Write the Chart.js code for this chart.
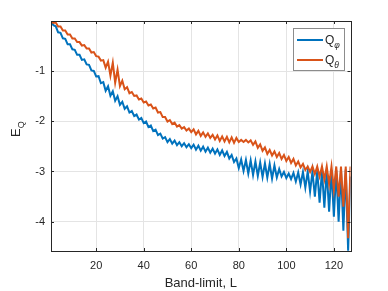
<!DOCTYPE html>
<html><head><meta charset="utf-8">
<script src="https://cdn.jsdelivr.net/npm/chart.js@4/dist/chart.umd.min.js"></script>
<style>html,body{margin:0;padding:0;background:#fff;}#wrap{width:388px;height:291px;}</style>
</head><body><div id="wrap"><canvas id="c" width="388" height="291"></canvas></div>
<script>
// Q_phi (blue) error per band-limit L = 1..127
const qPhi = [
 0, -0.085, -0.105, -0.225, -0.235, -0.345, -0.355, -0.465, -0.465, -0.565,
 -0.575, -0.675, -0.675, -0.775, -0.765, -0.865, -0.875, -0.985, -0.995, -1.105,
 -1.10, -1.24, -1.22, -1.39, -1.30, -1.49, -1.40, -1.59, -1.50, -1.67,
 -1.61, -1.75, -1.70, -1.825, -1.795, -1.895, -1.865, -1.965, -1.935, -2.035,
 -2.005, -2.115, -2.085, -2.195, -2.165, -2.275, -2.245, -2.345, -2.315, -2.415,
 -2.355, -2.445, -2.385, -2.475, -2.415, -2.495, -2.435, -2.515, -2.455, -2.535,
 -2.465, -2.565, -2.485, -2.585, -2.505, -2.605, -2.525, -2.625, -2.545, -2.645,
 -2.56, -2.67, -2.58, -2.69, -2.61, -2.74, -2.67, -2.81, -2.74, -2.93,
 -2.76, -2.99, -2.77, -3.04, -2.78, -3.07, -2.80, -3.09, -2.82, -3.11,
 -2.84, -3.12, -2.85, -3.14, -2.88, -3.12, -2.95, -3.10, -3.01, -3.13,
 -3.04, -3.15, -3.03, -3.20, -3.02, -3.26, -3.01, -3.32, -3.00, -3.40,
 -3.00, -3.50, -2.99, -3.62, -2.98, -3.72, -2.98, -3.80, -2.97, -3.90,
 -2.97, -4.00, -2.97, -4.18, -2.96, -4.58, -3.10
];
// Q_theta (orange)
const qTheta = [
 0, -0.04, -0.03, -0.11, -0.11, -0.19, -0.19, -0.27, -0.27, -0.35,
 -0.35, -0.42, -0.42, -0.49, -0.48, -0.55, -0.55, -0.63, -0.62, -0.70,
 -0.71, -0.79, -0.78, -0.93, -0.81, -1.09, -0.83, -1.23, -0.97, -1.30,
 -1.19, -1.36, -1.32, -1.44, -1.415, -1.495, -1.485, -1.565, -1.545, -1.625,
 -1.605, -1.685, -1.665, -1.745, -1.725, -1.825, -1.815, -1.915, -1.915, -2.005,
 -1.975, -2.055, -2.025, -2.105, -2.075, -2.145, -2.115, -2.185, -2.145, -2.215,
 -2.16, -2.26, -2.19, -2.29, -2.22, -2.31, -2.24, -2.33, -2.27, -2.36,
 -2.28, -2.39, -2.30, -2.40, -2.31, -2.42, -2.32, -2.43, -2.33, -2.41,
 -2.37, -2.41, -2.37, -2.42, -2.38, -2.47, -2.40, -2.53, -2.46, -2.59,
 -2.52, -2.65, -2.57, -2.68, -2.60, -2.71, -2.63, -2.75, -2.67, -2.79,
 -2.71, -2.83, -2.75, -2.88, -2.80, -2.92, -2.85, -2.97, -2.90, -3.01,
 -2.90, -3.05, -2.90, -3.10, -2.90, -3.16, -2.90, -3.25, -2.90, -3.36,
 -2.90, -3.50, -2.90, -3.70, -2.90, -4.33, -2.90
];
const bandLimits = qPhi.map((_, i) => i + 1);
const xTicks = [20, 40, 60, 80, 100, 120];
const yTicks = [-1, -2, -3, -4];
const seriesMain = ['Q', 'Q'];
const seriesSub = ['\u03C6', '\u03B8'];
const xTitle = 'Band-limit, L';
const yTitleMain = 'E';
const yTitleSub = 'Q';

const BLUE = '#0072BD', ORANGE = '#D95319', AX = '#262626', GRID = '#e4e4e4';
const FONT = '"Liberation Sans", Arial, Helvetica, sans-serif';

const decor = {
  id: 'decor',
  afterDatasetsDraw(chart) {
    const ctx = chart.ctx, a = chart.chartArea;
    const xs = chart.scales.x, ys = chart.scales.y;
    ctx.save();
    ctx.strokeStyle = AX; ctx.lineWidth = 1;
    ctx.beginPath();
    xTicks.forEach(v => {
      const px = Math.round(xs.getPixelForValue(v)) + 0.5;
      ctx.moveTo(px, a.bottom); ctx.lineTo(px, a.bottom - 3);
      ctx.moveTo(px, a.top); ctx.lineTo(px, a.top + 3);
    });
    yTicks.forEach(v => {
      const py = Math.round(ys.getPixelForValue(v)) + 0.5;
      ctx.moveTo(a.left, py); ctx.lineTo(a.left + 3, py);
      ctx.moveTo(a.right, py); ctx.lineTo(a.right - 3, py);
    });
    ctx.stroke();
    ctx.strokeRect(Math.round(a.left) + 0.5, Math.round(a.top) + 0.5,
                   Math.round(a.right - a.left), Math.round(a.bottom - a.top));
    // legend
    const lx = 293.5, ly = 28.5, lw = 51, lh = 42;
    ctx.fillStyle = '#fff';
    ctx.fillRect(lx, ly, lw, lh);
    ctx.strokeStyle = '#8c8c8c';
    ctx.strokeRect(lx, ly, lw, lh);
    const cols = [BLUE, ORANGE];
    const rowsY = [40, 60];
    for (let i = 0; i < 2; i++) {
      ctx.strokeStyle = cols[i]; ctx.lineWidth = 2;
      ctx.beginPath(); ctx.moveTo(297, rowsY[i]); ctx.lineTo(323, rowsY[i]); ctx.stroke();
      ctx.fillStyle = AX;
      ctx.textBaseline = 'alphabetic'; ctx.textAlign = 'left';
      ctx.font = '12px ' + FONT;
      ctx.fillText(seriesMain[i], 325, rowsY[i] + 4);
      const w = ctx.measureText(seriesMain[i]).width;
      ctx.font = 'italic 8.5px ' + FONT;
      ctx.fillText(seriesSub[i], 325 + w, rowsY[i] + 8);
    }
    // y title
    ctx.save();
    ctx.translate(20, 137);
    ctx.rotate(-Math.PI / 2);
    ctx.fillStyle = AX; ctx.textAlign = 'left'; ctx.textBaseline = 'alphabetic';
    ctx.font = '13px ' + FONT;
    ctx.fillText(yTitleMain, 0, 0);
    const ew = ctx.measureText(yTitleMain).width;
    ctx.font = '9px ' + FONT;
    ctx.fillText(yTitleSub, ew, 4);
    ctx.restore();
    ctx.restore();
  }
};

new Chart(document.getElementById('c'), {
  type: 'line',
  data: {
    labels: bandLimits,
    datasets: [
      { label: 'Q_phi', data: qPhi, borderColor: BLUE, backgroundColor: BLUE, borderWidth: 2, pointRadius: 0, tension: 0, order: 1 },
      { label: 'Q_theta', data: qTheta, borderColor: ORANGE, backgroundColor: ORANGE, borderWidth: 2, pointRadius: 0, tension: 0, order: 0 }
    ]
  },
  options: {
    responsive: false, animation: false, devicePixelRatio: 1,
    layout: { padding: { top: 21, right: 37.5, left: 0, bottom: 0 } },
    plugins: { legend: { display: false }, tooltip: { enabled: false } },
    scales: {
      x: {
        type: 'linear', min: 1, max: 127,
        afterBuildTicks: s => { s.ticks = xTicks.map(v => ({ value: v })); },
        afterFit: s => { s.height = 40; },
        grid: { color: GRID, drawTicks: false, lineWidth: 1 },
        border: { display: false },
        ticks: { color: AX, font: { family: FONT, size: 11 }, padding: 8, maxRotation: 0 },
        title: { display: true, text: xTitle, color: AX, font: { family: FONT, size: 13 }, padding: 0 }
      },
      y: {
        type: 'linear', min: -4.585, max: 0,
        afterBuildTicks: s => { s.ticks = yTicks.map(v => ({ value: v })); },
        afterFit: s => { s.width = 51; },
        grid: { color: GRID, drawTicks: false, lineWidth: 1 },
        border: { display: false },
        ticks: { color: AX, font: { family: FONT, size: 11 }, padding: 6 }
      }
    }
  },
  plugins: [decor]
});
</script></body></html>
